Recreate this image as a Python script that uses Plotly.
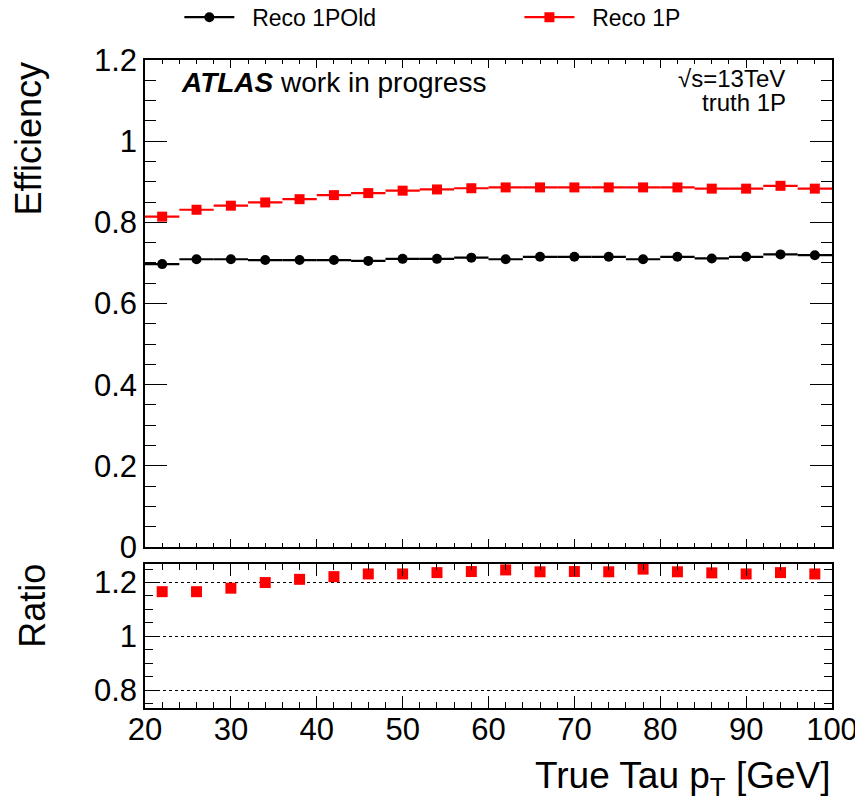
import plotly.graph_objects as go

# ---- data ----
pt_centers = [22, 26, 30, 34, 38, 42, 46, 50, 54, 58, 62, 66, 70, 74, 78, 82, 86, 90, 94, 98]
bin_halfwidth = [2] * 20
eff_1pold = [0.697, 0.709, 0.709, 0.707, 0.707, 0.707, 0.705, 0.710, 0.710, 0.713,
             0.709, 0.715, 0.715, 0.715, 0.709, 0.715, 0.711, 0.715, 0.721, 0.719]
eff_1p = [0.814, 0.831, 0.841, 0.849, 0.857, 0.867, 0.872, 0.878, 0.881, 0.884,
          0.886, 0.886, 0.886, 0.886, 0.886, 0.886, 0.883, 0.883, 0.890, 0.883]
ratio_vals = [1.166, 1.166, 1.179, 1.200, 1.212, 1.222, 1.232, 1.232, 1.237, 1.241,
              1.247, 1.240, 1.241, 1.240, 1.250, 1.240, 1.236, 1.232, 1.237, 1.232]
series_names = ["Reco 1POld", "Reco 1P"]
main_yticks = [0, 0.2, 0.4, 0.6, 0.8, 1, 1.2]
ratio_yticks = [0.8, 1, 1.2]
x_ticks = [20, 30, 40, 50, 60, 70, 80, 90, 100]

FONT = "Liberation Sans, Arial, Helvetica, sans-serif"
BLACK = "#000000"
RED = "#ff0000"
GAP = "\u00a0\u00a0"

fig = go.Figure()

# main panel
fig.add_trace(go.Scatter(
    x=pt_centers, y=eff_1pold, mode="markers", showlegend=False,
    marker=dict(symbol="circle", size=10, color=BLACK),
    error_x=dict(type="data", array=bin_halfwidth, color=BLACK, thickness=2.2, width=0),
    xaxis="x", yaxis="y"))
fig.add_trace(go.Scatter(
    x=pt_centers, y=eff_1p, mode="markers", showlegend=False,
    marker=dict(symbol="square", size=10, color=RED),
    error_x=dict(type="data", array=bin_halfwidth, color=RED, thickness=2.2, width=0),
    xaxis="x", yaxis="y"))

# legend entries (each in its own legend box for exact placement)
fig.add_trace(go.Scatter(x=[None], y=[None], mode="lines+markers", name=GAP + series_names[0],
                         line=dict(color=BLACK, width=2.2), legend="legend",
                         marker=dict(symbol="circle", size=10, color=BLACK)))
fig.add_trace(go.Scatter(x=[None], y=[None], mode="lines+markers", name=GAP + series_names[1],
                         line=dict(color=RED, width=2.2), legend="legend2",
                         marker=dict(symbol="square", size=10, color=RED)))

# ratio panel
fig.add_trace(go.Scatter(
    x=pt_centers, y=ratio_vals, mode="markers", showlegend=False,
    marker=dict(symbol="square", size=11, color=RED),
    xaxis="x2", yaxis="y2"))

common_axis = dict(showline=True, linecolor=BLACK, linewidth=1.5, mirror="allticks",
                   ticks="inside", tickcolor=BLACK, tickwidth=1.2, zeroline=False,
                   showgrid=False, tickfont=dict(family=FONT, size=31, color=BLACK))

legend_common = dict(orientation="h", yanchor="middle", xanchor="left",
                     font=dict(family=FONT, size=23, color=BLACK),
                     itemwidth=50, bgcolor="rgba(0,0,0,0)")

fig.update_layout(
    width=863, height=806,
    margin=dict(l=137, r=39, t=52, b=106, autoexpand=False),
    paper_bgcolor="white", plot_bgcolor="white",
    font=dict(family=FONT, color=BLACK),
    xaxis=dict(common_axis, domain=[0, 1], range=[20, 100], anchor="y",
               tickvals=x_ticks, showticklabels=False, ticklen=8,
               minor=dict(dtick=2, ticks="inside", ticklen=4, tickcolor=BLACK, tickwidth=1)),
    yaxis=dict(common_axis, domain=[0.2485, 1], range=[0, 1.2], anchor="x",
               tickvals=main_yticks, ticklen=22,
               minor=dict(dtick=0.05, ticks="inside", ticklen=11, tickcolor=BLACK, tickwidth=1)),
    xaxis2=dict(common_axis, domain=[0, 1], range=[20, 100], anchor="y2",
                tickvals=x_ticks, ticklen=12, ticklabelstandoff=-7,
                minor=dict(dtick=2, ticks="inside", ticklen=6, tickcolor=BLACK, tickwidth=1)),
    yaxis2=dict(common_axis, domain=[0, 0.2222], range=[0.733, 1.269], anchor="x2",
                tickvals=ratio_yticks, ticktext=["0.8", "1", "1.2"], ticklen=15,
                showgrid=True, gridcolor=BLACK, gridwidth=1, griddash="dot",
                minor=dict(dtick=0.05, ticks="inside", ticklen=8, tickcolor=BLACK, tickwidth=1)),
    legend=dict(legend_common, x=0.05, y=1.066),
    legend2=dict(legend_common, x=0.545, y=1.066),
    annotations=[
        dict(text="<b><i>ATLAS</i></b> work in progress", xref="paper", yref="paper",
             x=0.05, y=0.966, xanchor="left", yanchor="middle", showarrow=False,
             font=dict(family=FONT, size=28, color=BLACK)),
        dict(text="√s=13TeV", xref="paper", yref="paper",
             x=0.9345, y=0.972, xanchor="right", yanchor="middle", showarrow=False,
             font=dict(family=FONT, size=24, color=BLACK)),
        dict(text="truth 1P", xref="paper", yref="paper",
             x=0.936, y=0.935, xanchor="right", yanchor="middle", showarrow=False,
             font=dict(family=FONT, size=24, color=BLACK)),
        dict(text="Efficiency", xref="paper", yref="paper", textangle=-90,
             x=-0.169, y=1.0, xanchor="center", yanchor="top", showarrow=False,
             font=dict(family=FONT, size=36, color=BLACK)),
        dict(text="Ratio", xref="paper", yref="paper", textangle=-90,
             x=-0.165, y=0.2253, xanchor="center", yanchor="top", showarrow=False,
             font=dict(family=FONT, size=36, color=BLACK)),
        dict(text="True Tau p<sub>T</sub> [GeV]", xref="paper", yref="paper",
             x=1.0015, y=-0.108, xanchor="right", yanchor="middle", showarrow=False,
             font=dict(family=FONT, size=37, color=BLACK)),
    ],
)

fig.write_html("out.html")
